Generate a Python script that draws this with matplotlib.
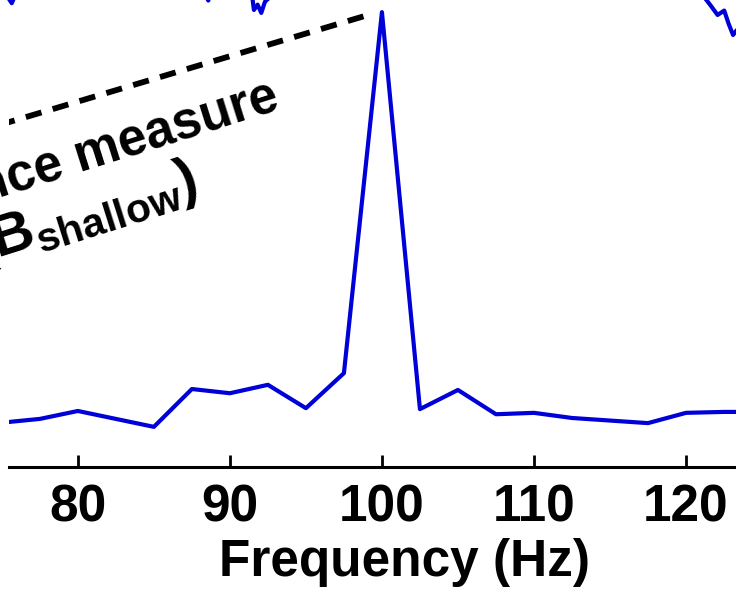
import matplotlib
matplotlib.use('Agg')
import matplotlib.pyplot as plt

# spectrum around the 100 Hz stimulation frequency
freq_hz = [75.0, 77.5, 80.0, 85.0, 87.5, 90.0, 92.5, 95.0, 97.5, 100.0,
           102.5, 105.0, 107.5, 110.0, 112.5, 117.5, 120.0, 122.5, 125.0]
power = [0.095, 0.103, 0.120, 0.086, 0.167, 0.158, 0.176, 0.126, 0.201, 0.974,
         0.124, 0.165, 0.113, 0.116, 0.105, 0.094, 0.116, 0.118, 0.118]
freq_ticks = [80, 90, 100, 110, 120]

# pointer from the label to the peak
pointer_x = [74.8, 99.1]
pointer_y = [0.732, 0.968]

# trace of the panel above (only its lower excursions reach this panel)
upper_t = [0.0, 0.012, 0.016, 0.022, 0.27, 0.283, 0.29, 0.34, 0.345, 0.35,
           0.355, 0.36, 0.39, 0.94, 0.965, 0.975, 0.984, 0.99, 0.996, 1.0]
upper_v = [0.20, 0.14, 0.125, 0.16, 0.20, 0.134, 0.20, 0.20, 0.102, 0.12,
           0.092, 0.13, 0.20, 0.20, 0.119, 0.085, 0.10, 0.055, 0.017, 0.03]

plt.rcParams['mathtext.fontset'] = 'custom'
plt.rcParams['mathtext.rm'] = 'Liberation Sans:bold'
plt.rcParams['mathtext.it'] = 'Liberation Sans:bold'
plt.rcParams['mathtext.bf'] = 'Liberation Sans:bold'
plt.rcParams['font.family'] = 'Liberation Sans'

BLUE = '#0000d8'

fig = plt.figure(figsize=(7.36, 5.89), dpi=100)

# upper panel, mostly outside the canvas
ax_up = fig.add_axes([0.0, 1 - 40 / 589, 1.0, 0.5])
ax_up.plot(upper_t, upper_v, color=BLUE, linewidth=3)
ax_up.set_xlim(0, 1)
ax_up.set_ylim(0, 1)
ax_up.axis('off')

ax = fig.add_axes([0.012, 0.2071, 1.075, 0.7929])
ax.plot(freq_hz, power, color=BLUE, linewidth=3)
ax.plot(pointer_x, pointer_y, color='black', linewidth=4.2,
        linestyle=(0, (2.8, 2.0)), dash_capstyle='butt')
ax.set_xlim(75.46, 127.5)
ax.set_ylim(0, 1)

for side in ['top', 'right', 'left']:
    ax.spines[side].set_visible(False)
ax.spines['bottom'].set_linewidth(2.2)
ax.set_yticks([])
ax.set_xticks(freq_ticks)
ax.set_xticklabels([str(t) for t in freq_ticks], fontsize=37, fontweight='bold')
ax.tick_params(axis='x', direction='in', length=8.5, width=2, pad=12)
ax.set_xlabel('Frequency (Hz)', fontsize=37, fontweight='bold', labelpad=4)
ax.patch.set_alpha(0)

# rotated annotation next to the peak
fig.text(281 / 736, 1 - 108 / 589, 'Distance measure', rotation=17.5,
         rotation_mode='anchor', ha='right', va='baseline',
         fontsize=37, fontweight='bold')
fig.text(-21 / 736, 1 - 264 / 589, r'(B$_{\rm shallow}$)', rotation=17.5,
         rotation_mode='anchor', ha='left', va='baseline',
         fontsize=42, fontweight='bold')

plt.savefig('out.png', dpi=100)
plt.close()
